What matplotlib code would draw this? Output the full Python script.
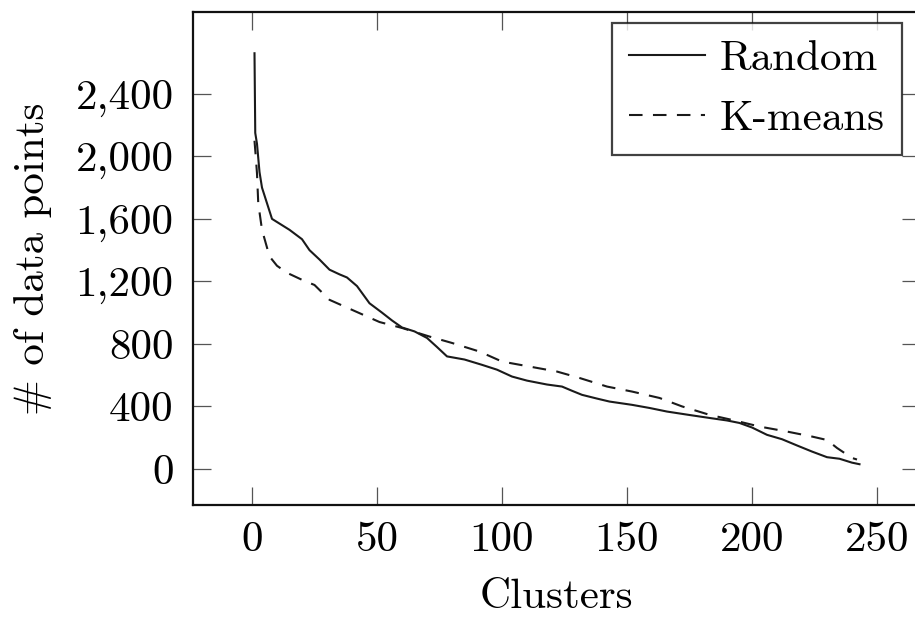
import matplotlib
matplotlib.use("Agg")
import matplotlib.pyplot as plt
from matplotlib.ticker import FuncFormatter

plt.rcParams["font.family"] = ["cmr10", "DejaVu Serif"]
plt.rcParams["axes.formatter.use_mathtext"] = True
plt.rcParams["mathtext.fontset"] = "cm"
plt.rcParams["savefig.bbox"] = "standard"

# values
random_x = [1, 1.3, 2, 3, 4, 6, 8, 10, 15, 20, 23, 27, 31, 35, 38, 42, 47, 52,
            56, 60, 65, 70, 74, 78, 85, 92, 98, 104, 110, 118, 124, 128, 132,
            138, 143, 152, 159, 166, 175, 183, 190, 195, 200, 206, 212, 218,
            224, 230, 235, 240, 243]
random_y = [2660, 2150, 2080, 1900, 1800, 1700, 1600, 1580, 1530, 1470, 1400,
            1340, 1275, 1245, 1225, 1170, 1060, 1000, 950, 905, 880, 838, 780,
            720, 700, 666, 635, 591, 565, 540, 527, 500, 474, 450, 431, 410,
            390, 367, 345, 326, 310, 294, 265, 218, 190, 150, 111, 75, 65, 40,
            30]

kmeans_x = [1, 1.5, 2, 2.5, 4, 7, 10, 14, 20, 25, 31, 40, 51, 60, 71, 80, 91,
            100, 111, 122, 131, 142, 152, 163, 172, 183, 193, 203, 214, 224,
            230, 234, 240, 242]
kmeans_y = [2100, 2000, 1890, 1700, 1530, 1360, 1300, 1255, 1210, 1177, 1082,
            1018, 940, 902, 847, 806, 751, 687, 655, 623, 582, 527, 495, 454,
            400, 346, 310, 271, 239, 207, 185, 134, 70, 60]

x_ticks = [0, 50, 100, 150, 200, 250]
y_ticks = [0, 400, 800, 1200, 1600, 2000, 2400]

fig = plt.figure(figsize=(9.15, 6.26), dpi=100)
# right edge of the axes sits just past the image border, as in the source
ax = fig.add_axes([193 / 915, 1 - 505 / 626, (919.5 - 193) / 915, 493 / 626])

ax.plot(random_x, random_y, color="#1a1a1a", lw=1.5, label="Random")
ax.plot(kmeans_x, kmeans_y, color="#1a1a1a", lw=1.5,
        linestyle=(0, (6.5, 5)), label="K-means")

ax.set_xlim(-23.6, 267)
ax.set_ylim(-231, 2924)
ax.set_xticks(x_ticks)
ax.set_yticks(y_ticks)
ax.yaxis.set_major_formatter(FuncFormatter(lambda v, p: f"{v:,.0f}"))
ax.xaxis.set_major_formatter(FuncFormatter(lambda v, p: f"{v:.0f}"))

ax.tick_params(direction="in", length=13, width=0.9, color="#555555",
               top=True, right=True, labelsize=31, pad=12)
ax.tick_params(axis="y", pad=14)
for s in ax.spines.values():
    s.set_linewidth(1.6)
    s.set_color("#111111")
ax.spines["right"].set_visible(False)

ax.set_xlabel("Clusters", fontsize=31, labelpad=14)
ax.set_ylabel("# of data points", fontsize=31, labelpad=17)

leg = ax.legend(loc="upper right", bbox_to_anchor=(902 / 915, 1 - 23 / 626),
                bbox_transform=fig.transFigure, fontsize=31, frameon=True,
                fancybox=False, edgecolor="#111111", handlelength=1.75,
                handletextpad=0.35, borderpad=0.4, labelspacing=0.5,
                borderaxespad=0)
leg.get_frame().set_linewidth(1.6)

fig.savefig("out.png", dpi=100)
